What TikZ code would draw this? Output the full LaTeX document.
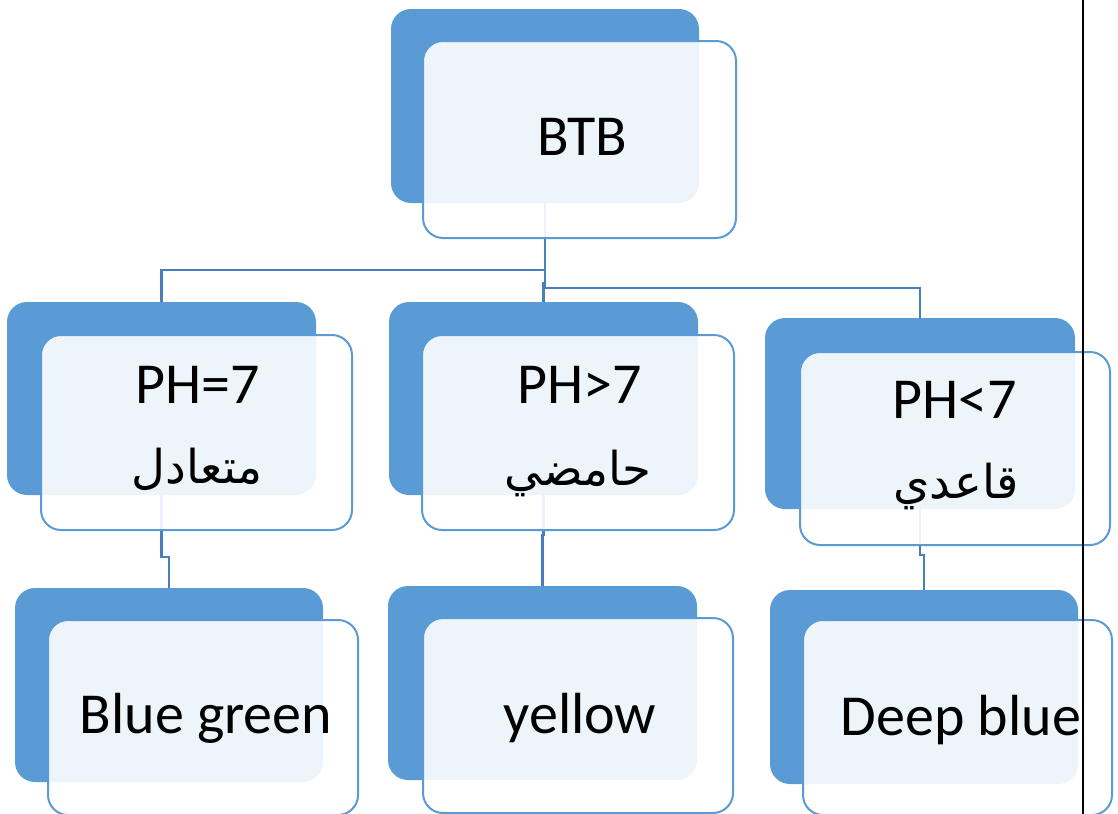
\documentclass[tikz,border=0pt]{standalone}
\usepackage{fontspec}
\setmainfont{Carlito}
\newfontfamily\arabicfont[Script=Arabic]{DejaVu Sans}
\TeXXeTstate=1
\definecolor{bk}{RGB}{91,155,213}
\definecolor{fr}{RGB}{91,155,213}
\definecolor{ln}{RGB}{72,126,186}
\begin{document}
\begin{tikzpicture}[x=0.75pt,y=-0.75pt,
  back/.style={fill=bk, draw=none, rounded corners=15pt, inner sep=0pt},
  front/.style={fill=white, fill opacity=0.9, draw=fr, line width=1.5pt, rounded corners=15pt, inner sep=0pt},
  link/.style={draw=ln, line width=1.6pt},
  lbl/.style={font=\fontsize{43.5}{50}\selectfont, anchor=base, inner sep=0pt},
  ar/.style={font=\arabicfont\fontsize{35}{42}\selectfont, anchor=base, inner sep=0pt}]
\useasboundingbox (0,0) rectangle (1118,814);
% back boxes
\node[back, minimum width=308*0.75pt, minimum height=194*0.75pt] (tb) at (545,106) {};
\node[back, minimum width=309*0.75pt, minimum height=193*0.75pt] (m1) at (161.5,398.5) {};
\node[back, minimum width=309*0.75pt, minimum height=193*0.75pt] (m2) at (543.5,398.5) {};
\node[back, minimum width=310*0.75pt, minimum height=191*0.75pt] (m3) at (920,413.5) {};
\node[back, minimum width=308*0.75pt, minimum height=194*0.75pt] (b1) at (169,685) {};
\node[back, minimum width=309*0.75pt, minimum height=194*0.75pt] (b2) at (542.5,683) {};
\node[back, minimum width=308*0.75pt, minimum height=194*0.75pt] (b3) at (924,687) {};
% connectors
\draw[link] (tb.south) -- ++(0,67) -| (m1.north);
\draw[link] (tb.south) -- ++(0,80) -| (m2.north);
\draw[link] (tb.south) -- ++(0,85) -| (m3.north);
\draw[link] (m1.south) -- ++(0,62) -| (b1.north);
\draw[link] (m2.south) -- ++(0,40) -| (b2.north);
\draw[link] (m3.south) -- ++(0,46) -| (b3.north);
% front boxes
\node[front, minimum width=313*0.75pt, minimum height=197*0.75pt] (ft) at (579.5,139.5) {};
\node[front, minimum width=311*0.75pt, minimum height=195*0.75pt] (f1) at (196.5,432.5) {};
\node[front, minimum width=312*0.75pt, minimum height=195*0.75pt] (f2) at (578,432.5) {};
\node[front, minimum width=310*0.75pt, minimum height=193*0.75pt] (f3) at (955,448.5) {};
\node[front, minimum width=310*0.75pt, minimum height=195*0.75pt] (g1) at (203,717.5) {};
\node[front, minimum width=310*0.75pt, minimum height=195*0.75pt] (g2) at (578,715.5) {};
\node[front, minimum width=309*0.75pt, minimum height=195*0.75pt] (g3) at (957.5,717.5) {};
% texts
\node[lbl] (t0) at (582,155) {BTB};
\node[lbl] (t1) at (198,403) {PH=7};
\node[ar] (a1) at (197,483) {\beginR متعادل\endR};
\node[lbl] (t2) at (580,403) {PH>7};
\node[ar] (a2) at (578,485) {\beginR حامضي\endR};
\node[lbl] (t3) at (955,418) {PH<7};
\node[ar] (a3) at (956,498) {\beginR قاعدي\endR};
\node[lbl] (t4) at (206,733) {Blue green};
\node[lbl] (t5) at (580,733) {yellow};
\node[lbl] (t6) at (961,735) {Deep blue};
% vertical black rule
\coordinate (v1) at (1083,0);
\coordinate (v2) at (1083,814);
\draw[line width=1.6pt, black] (v1) -- (v2);
\end{tikzpicture}
\end{document}
